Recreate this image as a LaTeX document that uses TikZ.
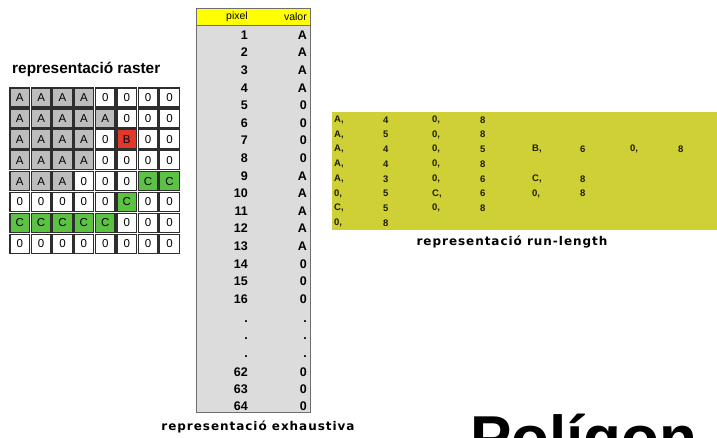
\documentclass[tikz,border=0pt]{standalone}
\usepackage{fontspec}
\setmainfont{Liberation Sans}
\newfontfamily\capfont[LetterSpace=8]{DejaVu Sans}
\usetikzlibrary{positioning}
\definecolor{CellInk}{HTML}{2E2E2E}
\definecolor{TabInk}{HTML}{6E6E6E}
\definecolor{TabFill}{HTML}{DCDCDC}
\definecolor{HeadFill}{HTML}{FFFF00}
\definecolor{RunFill}{HTML}{CFCF36}
\definecolor{RunInk}{HTML}{1E1E00}
\colorlet{cellA}{black!26}
\definecolor{cellB}{HTML}{E2382B}
\definecolor{cellC}{HTML}{5CC243}
\colorlet{cell0}{white}

\begin{document}
\begin{tikzpicture}[
  x=1pt, y=-1pt,
  cell/.style={
    draw=CellInk,
    line width=1.4pt,
    minimum width=19.6pt,
    minimum height=19.1pt,
    inner sep=0pt,
    font=\fontsize{11.5}{11.5}\selectfont,
  },
  tabnum/.style={
    anchor=east,
    inner sep=0pt,
    font=\bfseries\fontsize{12.5}{12.5}\selectfont,
  },
  runtxt/.style={
    anchor=west,
    inner sep=0pt,
    text=RunInk,
    font=\bfseries\fontsize{9.5}{9.5}\selectfont,
  },
  caption/.style={
    inner sep=0pt,
    font=\capfont\bfseries\fontsize{12}{12}\selectfont,
  },
]
  \useasboundingbox (0,0) rectangle (717,437);

  % raster grid
  \node[anchor=base west, inner sep=0pt,
    font=\bfseries\fontsize{15.4}{15.4}\selectfont] (rastitle) at (12,73) {representació raster};
  \foreach \row [count=\j] in {
      {A,A,A,A,0,0,0,0},
      {A,A,A,A,A,0,0,0},
      {A,A,A,A,0,B,0,0},
      {A,A,A,A,0,0,0,0},
      {A,A,A,0,0,0,C,C},
      {0,0,0,0,0,C,0,0},
      {C,C,C,C,C,0,0,0},
      {0,0,0,0,0,0,0,0}} {
    \foreach \v [count=\i] in \row {
      \node[cell, fill=cell\v] (r\j-\i) at ({9+21.4*(\i-0.5)},{87+20.9*(\j-0.5)}) {\v};
    }
  }

  % exhaustive table
  \node[draw=TabInk, fill=TabFill, line width=0.8pt, anchor=north west,
    minimum width=114pt, minimum height=404pt] (tab) at (196,8) {};
  \node[draw=TabInk, fill=HeadFill, line width=0.8pt, anchor=north west,
    minimum width=114pt, minimum height=17pt] (head) at (196,8) {};
  \node[anchor=east, inner sep=0pt, font=\fontsize{10.5}{10.5}\selectfont] (hpix) at (248,16.5) {pixel};
  \node[anchor=east, inner sep=0pt, font=\fontsize{10.5}{10.5}\selectfont] (hval) at (307,16.5) {valor};
  \foreach \n/\v [count=\k] in {1/A,2/A,3/A,4/A,5/0,6/0,7/0,8/0,9/A,10/A,11/A,12/A,13/A,14/0,15/0,16/0} {
    \node[tabnum] (p\k) at (248,{35+17.6*(\k-1)}) {\n};
    \node[tabnum] (v\k) at (307,{35+17.6*(\k-1)}) {\v};
  }
  \foreach \y [count=\k] in {322,339,357} {
    \node[tabnum] (pd\k) at (248,\y) {.};
    \node[tabnum] (vd\k) at (307,\y) {.};
  }
  \foreach \n [count=\k] in {62,63,64} {
    \node[tabnum] (pe\k) at (248,{372+17*(\k-1)}) {\n};
    \node[tabnum] (ve\k) at (307,{372+17*(\k-1)}) {0};
  }
  \node[caption] (capex) at (258,427) {representació exhaustiva};

  % run-length
  \node[fill=RunFill, anchor=north west, minimum width=385pt, minimum height=118pt] (run) at (332,112) {};
  \foreach \line [count=\j] in {
      {{A,},4,{0,},8},
      {{A,},5,{0,},8},
      {{A,},4,{0,},5,{B,},6,{0,},8},
      {{A,},4,{0,},8},
      {{A,},3,{0,},6,{C,},8},
      {{0,},5,{C,},6,{0,},8},
      {{C,},5,{0,},8},
      {{0,},8}} {
    \foreach \t [count=\i] in \line {
      \pgfmathsetmacro\cx{{334,383,432,480,532,580,630,678}[\i-1]}
      \node[runtxt] (rl\j-\i) at (\cx,{120+14.7*(\j-1)}) {\t};
    }
  }
  \node[caption] (caprl) at (512,242) {representació run-length};

  \node[anchor=base west, inner sep=0pt,
    font=\bfseries\fontsize{62}{62}\selectfont] (pol) at (470,459) {Polígon};
\end{tikzpicture}
\end{document}
